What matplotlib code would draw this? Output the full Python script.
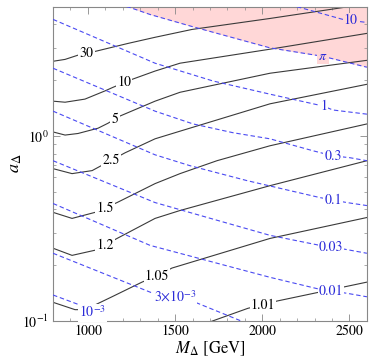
import numpy as np
import matplotlib
matplotlib.use("Agg")
import matplotlib.pyplot as plt
from matplotlib.ticker import MultipleLocator, LogLocator, NullFormatter

plt.rcParams['font.family'] = 'STIXGeneral'
plt.rcParams['mathtext.fontset'] = 'stix'

# --- black contours (ratio) ---
c30_x = [800, 869, 943, 1041, 1230, 1385, 1597, 2044, 2445, 2500]
c30_y = [2.53, 2.59, 2.73, 2.86, 3.16, 3.41, 3.76, 4.31, 4.91, 5.0]

c10_x = [800, 869, 983, 1098, 1144, 1253, 1385, 1528, 2044, 2600]
c10_y = [1.54, 1.52, 1.58, 1.75, 1.83, 2.02, 2.24, 2.47, 2.94, 3.58]

c5_x = [800, 869, 943, 1058, 1115, 1184, 1385, 1528, 2044, 2600]
c5_y = [1.05, 1.01, 1.03, 1.10, 1.17, 1.28, 1.54, 1.72, 2.18, 2.56]

c2p5_x = [800, 909, 1024, 1213, 1385, 1528, 2044, 2600]
c2p5_y = [0.665, 0.625, 0.649, 0.810, 0.964, 1.06, 1.49, 1.90]

c1p5_x = [800, 909, 1041, 1167, 1385, 1528, 1740, 2044, 2600]
c1p5_y = [0.386, 0.358, 0.386, 0.436, 0.552, 0.625, 0.734, 0.884, 1.16]

c1p2_x = [800, 909, 1041, 1167, 1385, 1528, 2044, 2600]
c1p2_y = [0.247, 0.226, 0.241, 0.279, 0.358, 0.395, 0.538, 0.734]

c1p05_x = [800, 926, 966, 1041, 1138, 1310, 1396, 1482, 2044, 2600]
c1p05_y = [0.126, 0.115, 0.115, 0.122, 0.135, 0.162, 0.175, 0.193, 0.279, 0.362]

c1p01_x = [1690, 1918, 2004, 2084, 2600]
c1p01_y = [0.098, 0.117, 0.122, 0.128, 0.162]

# --- blue dashed contours ---
b10_x = [2158, 2216, 2462, 2600]
b10_y = [5.09, 4.94, 4.26, 4.10]

bpi_x = [1220, 1241, 1356, 1597, 2044, 2348, 2600]
bpi_y = [5.0, 4.94, 4.53, 3.90, 2.99, 2.69, 2.35]

b1_x = [800, 1385, 1717, 2044, 2348, 2405, 2600]
b1_y = [4.26, 2.47, 1.98, 1.68, 1.45, 1.38, 1.31]

b03_x = [800, 1385, 1603, 1832, 2044, 2290, 2405, 2502, 2600]
b03_y = [2.32, 1.36, 1.16, 1.04, 0.964, 0.831, 0.780, 0.762, 0.734]

b01_x = [800, 1385, 1585, 1912, 2330, 2485, 2600]
b01_y = [1.36, 0.790, 0.690, 0.573, 0.464, 0.436, 0.420]

b003_x = [800, 1385, 2044, 2330, 2473, 2600]
b003_y = [0.734, 0.436, 0.290, 0.256, 0.244, 0.232]

b001_x = [800, 1356, 2044, 2319, 2485, 2600]
b001_y = [0.431, 0.256, 0.172, 0.149, 0.141, 0.135]

b3m3_x = [800, 1373, 1499, 1625, 1889, 1929]
b3m3_y = [0.232, 0.141, 0.135, 0.125, 0.099, 0.095]

b1m3_x = [800, 983, 1058, 1098, 1127]
b1m3_y = [0.138, 0.119, 0.105, 0.099, 0.094]

black_curves = [
    (c30_x, c30_y, '30', 992),
    (c10_x, c10_y, '10', 1207),
    (c5_x, c5_y, '5', 1155),
    (c2p5_x, c2p5_y, '2.5', 1133),
    (c1p5_x, c1p5_y, '1.5', 1098),
    (c1p2_x, c1p2_y, '1.2', 1098),
    (c1p05_x, c1p05_y, '1.05', 1396),
    (c1p01_x, c1p01_y, '1.01', 2004),
]
blue_curves = [
    (b10_x, b10_y, '10', 2508),
    (bpi_x, bpi_y, r'$\pi$', 2348),
    (b1_x, b1_y, '1', 2353),
    (b03_x, b03_y, '0.3', 2405),
    (b01_x, b01_y, '0.1', 2405),
    (b003_x, b003_y, '0.03', 2394),
    (b001_x, b001_y, '0.01', 2394),
    (b3m3_x, b3m3_y, r'$3{\times}10^{-3}$', 1499),
    (b1m3_x, b1m3_y, r'$10^{-3}$', 1025),
]

pink = '#ffd7d7'
blue = '#4a4af2'
ymin, ymax = 0.1, 5.0

fig = plt.figure(figsize=(3.71, 3.63), dpi=100)
ax = fig.add_axes([0.143, 0.116, 0.846, 0.866])
ax.set_yscale('log')
ax.set_xlim(800, 2600)
ax.set_ylim(ymin, ymax)

# non-perturbative region above the pi contour
ax.fill_between(bpi_x, bpi_y, ymax, color=pink, lw=0, zorder=0)


def label_on(x, y, text, xl, color, bg):
    yl = 10 ** np.interp(xl, x, np.log10(y))
    ax.text(xl, yl, text, color=color, fontsize=10, ha='center', va='center',
            zorder=5, bbox=dict(boxstyle='square,pad=0.08', fc=bg, ec='none'))
    return yl


for x, y, txt, xl in black_curves:
    ax.plot(x, y, color='#3a3a3a', lw=0.8, zorder=2)
    label_on(x, y, txt, xl, 'black', 'white')

for x, y, txt, xl in blue_curves:
    ax.plot(x, y, color=blue, lw=0.8, ls=(0, (4, 2.5)), zorder=3)
    bg = pink if txt in ('10', r'$\pi$') else 'white'
    label_on(x, y, txt, xl, '#2b2bd8', bg)

ax.xaxis.set_major_locator(MultipleLocator(500))
ax.xaxis.set_minor_locator(MultipleLocator(100))
ax.yaxis.set_major_locator(LogLocator(base=10, numticks=5))
ax.yaxis.set_minor_locator(LogLocator(base=10, subs=np.arange(2, 10), numticks=20))
ax.yaxis.set_minor_formatter(NullFormatter())
ax.tick_params(which='both', direction='in', top=True, right=True,
               color='#888888', labelsize=10, pad=3)
ax.tick_params(which='major', length=5, width=0.6)
ax.tick_params(which='minor', length=2.5, width=0.5)
for s in ax.spines.values():
    s.set_color('#888888')
    s.set_linewidth(0.8)

ax.set_xlabel(r'$M_\Delta$ [GeV]', fontsize=12, labelpad=1)
ax.set_ylabel(r'$a_\Delta$', fontsize=13, labelpad=-1)

fig.savefig('out.png', dpi=100)
